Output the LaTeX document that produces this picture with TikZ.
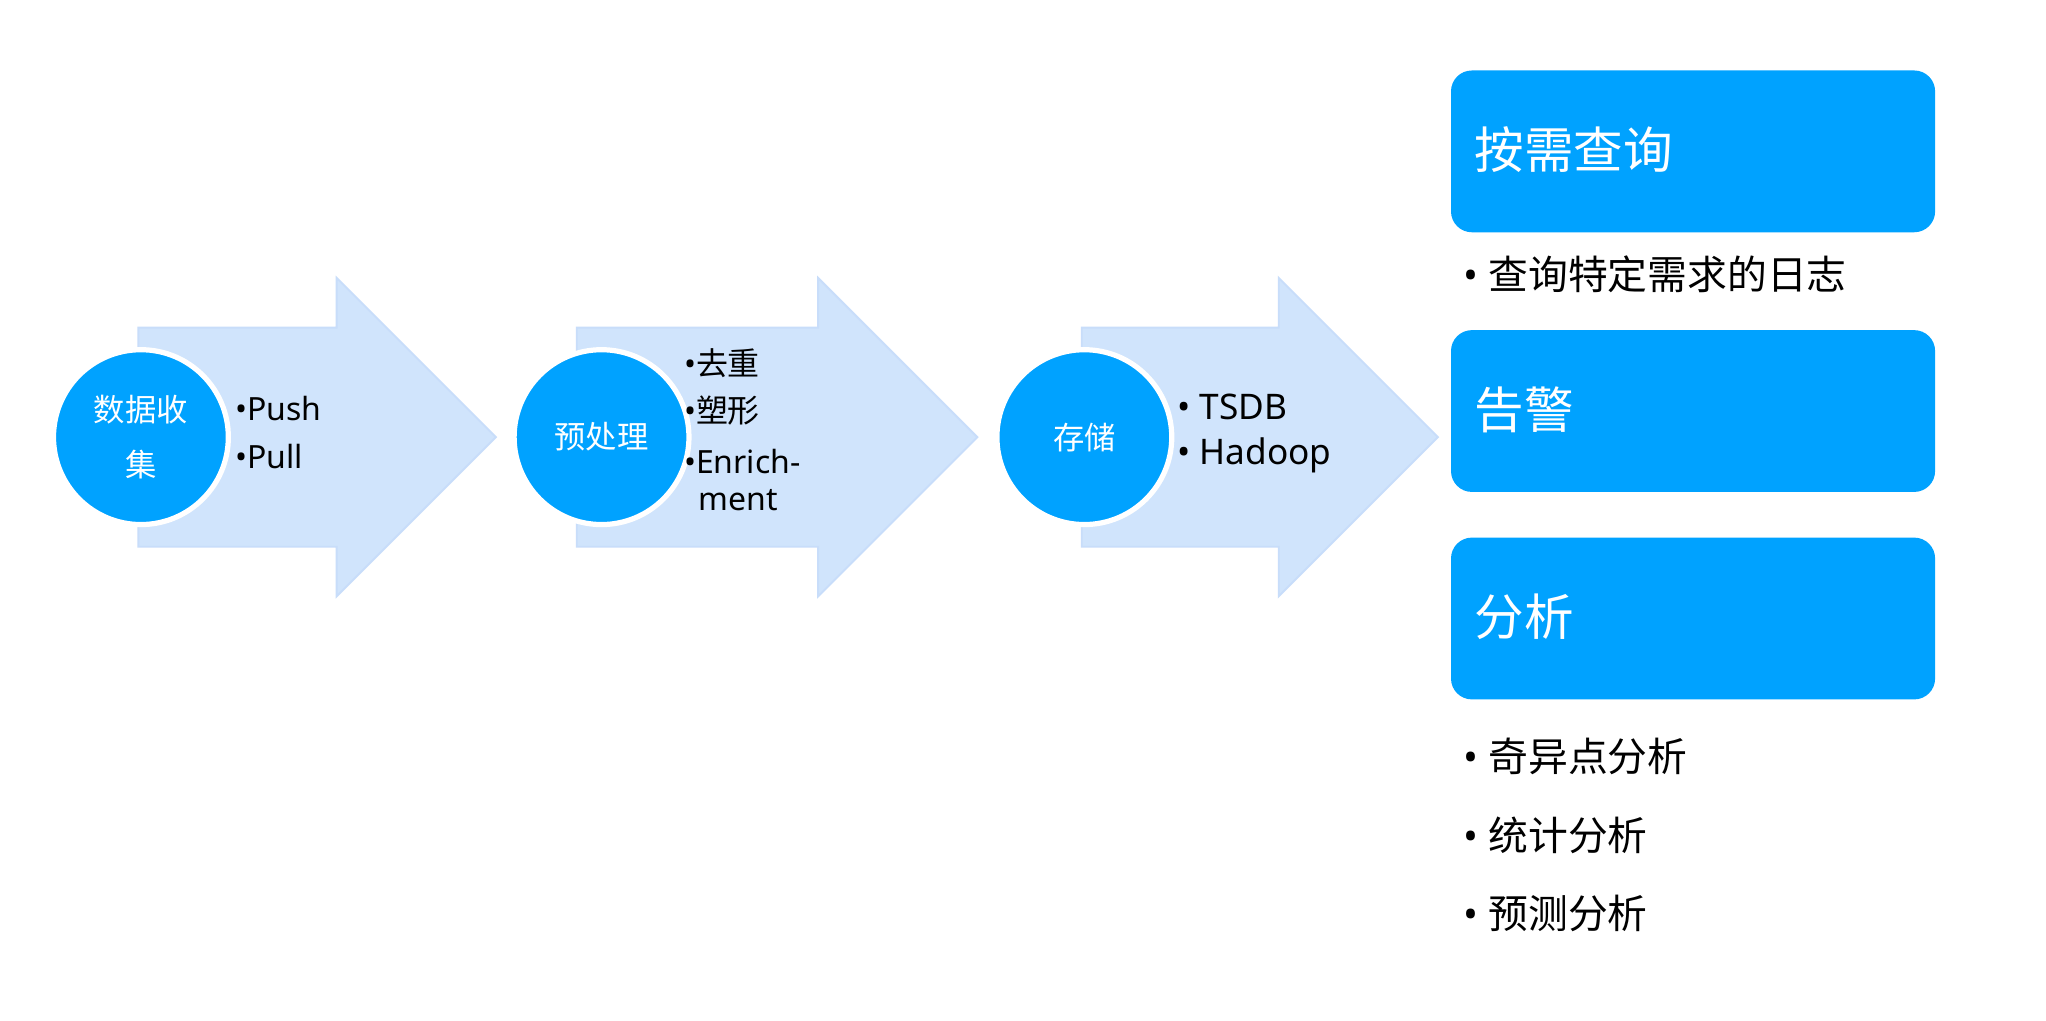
\documentclass[tikz,border=0pt]{standalone}
\usepackage{fontspec}
\setmainfont{Noto Sans CJK SC}
\newfontfamily\latinfont{Noto Sans}
\newcommand{\bul}{{\latinfont •}}
\begin{document}
\begin{tikzpicture}[x=1pt,y=-1pt,
  arrowshape/.style={fill=arrowfill,draw=arrowedge,line width=1.5pt,line join=miter},
  bubble/.style={circle,fill=mainblue,draw=white,line width=4pt,minimum size=134pt,inner sep=0pt,text=white,font=\fontsize{24}{42}\selectfont,align=center},
  panel/.style={rounded corners=16pt,fill=mainblue,draw=none},
  paneltitle/.style={anchor=west,text=white,font=\fontsize{38}{40}\selectfont,inner sep=0pt},
  item/.style={anchor=west,text=black,font=\fontsize{24.5}{37}\selectfont,inner sep=0pt,align=left},
  miditem/.style={anchor=west,text=black,font=\fontsize{27}{37}\selectfont,inner sep=0pt,align=left},
  bigitem/.style={anchor=west,text=black,font=\fontsize{30.5}{32}\selectfont,inner sep=0pt}
]
\definecolor{mainblue}{RGB}{0,162,255}
\definecolor{arrowfill}{RGB}{208,228,252}
\definecolor{arrowedge}{RGB}{200,221,250}
\useasboundingbox (0,0) rectangle (1568,782);
\fill[white] (0,0) rectangle (1568,782);
% arrows
\foreach \a/\b/\t in {106/258/380, 442/627/749, 829/980/1102}{
  \draw[arrowshape] (\a,251) -- (\b,251) -- (\b,213) -- (\t,335) -- (\b,457) -- (\b,419) -- (\a,419) -- cycle;
}
% circles
\node[bubble] (c1) at (108,335) {数据收\\集};
\node[bubble] (c2) at (461,335) {预处理};
\node[bubble] (c3) at (831,335) {存储};
% arrow texts
\node[item] (push) at (180,313) {\bul{\latinfont Push}};
\node[item] (pull) at (180,350) {\bul{\latinfont Pull}};
\node[item] (qc) at (524,278) {\bul 去重};
\node[item] (sx) at (524,315) {\bul 塑形};
\node[item] (en) at (524,354) {\bul{\latinfont Enrich-}};
\node[item] (mt) at (535,383) {\latinfont ment};
\node[miditem] (ts) at (902,312) {\bul\hspace{7pt}{\latinfont TSDB}};
\node[miditem] (hd) at (902,349) {\bul\hspace{7pt}{\latinfont Hadoop}};
% panels
\fill[panel] (1112,54) rectangle (1483,178);
\fill[panel] (1112,253) rectangle (1483,377);
\fill[panel] (1112,412) rectangle (1483,536);
\node[paneltitle] (p1) at (1130,115) {按需查询};
\node[paneltitle] (p2) at (1130,314) {告警};
\node[paneltitle] (p3) at (1130,473) {分析};
\node[bigitem] (b1) at (1121,210) {\bul\hspace{8pt}查询特定需求的日志};
\node[bigitem] (b2) at (1121,580) {\bul\hspace{8pt}奇异点分析};
\node[bigitem] (b3) at (1121,640) {\bul\hspace{8pt}统计分析};
\node[bigitem] (b4) at (1121,700) {\bul\hspace{8pt}预测分析};
\end{tikzpicture}
\end{document}
